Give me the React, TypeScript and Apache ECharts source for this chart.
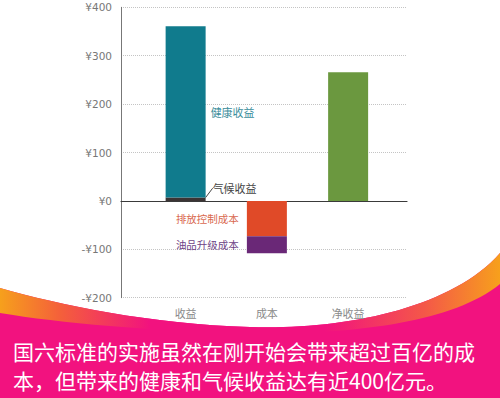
import React, { useEffect, useRef } from "react";
import * as echarts from "echarts";

const categories = ["收益", "成本", "净收益"];
const climateBenefit: (number | string)[] = [7, "-", "-"];
const healthBenefit: (number | string)[] = [354, "-", "-"];
const emissionCost: (number | string)[] = ["-", -73, "-"];
const fuelCost: (number | string)[] = ["-", -35, "-"];
const netBenefit: (number | string)[] = ["-", "-", 266];
const yMin = -200;
const yMax = 400;
const yInterval = 100;
const captionLines = [
  "国六标准的实施虽然在刚开始会带来超过百亿的成",
  "本，但带来的健康和气候收益达有近400亿元。",
];

const pinkPath =
  "M0,288 C60,305 150,324 250,327 C340,330 450,310 500,253 L500,398 L0,398 Z";
const bandPath =
  "M0,288 C60,305 150,324 250,327 C340,330 450,310 500,253 L500,284 C450,325 340,335 250,333 C150,331 60,323 0,313 Z";

let registered = false;
function registerShapes() {
  if (registered) return;
  registered = true;
  echarts.graphic.registerShape("pinkArea", echarts.graphic.extendPath(pinkPath, {}));
  echarts.graphic.registerShape("orangeBand", echarts.graphic.extendPath(bandPath, {}));
}

export default function App() {
  const ref = useRef<HTMLDivElement>(null);
  useEffect(() => {
    if (!ref.current) return;
    registerShapes();
    const chart = echarts.init(ref.current, undefined, { renderer: "svg" });
    const catFont = "'Noto Sans CJK SC', sans-serif";
    const option: any = {
      animation: false,
      backgroundColor: "#ffffff",
      grid: [
        { left: 121, top: 7.3, width: 286, height: 290.4 },
        { left: 145, top: 7.3, width: 243.75, height: 290.4 },
      ],
      xAxis: [
        {
          type: "category",
          gridIndex: 0,
          data: ["", "", ""],
          axisLine: { show: true, onZero: true, lineStyle: { color: "#3a3a3a", width: 1.2 } },
          axisTick: { show: false },
          axisLabel: { show: false },
          splitLine: { show: false },
        },
        {
          type: "category",
          gridIndex: 1,
          data: categories,
          axisLine: { show: false, onZero: false },
          axisTick: { show: false },
          axisLabel: { color: "#8a8a8a", fontSize: 11, margin: 10, fontFamily: catFont },
          splitLine: { show: false },
        },
      ],
      yAxis: [
        {
          type: "value",
          gridIndex: 0,
          min: yMin,
          max: yMax,
          interval: yInterval,
          axisLine: { show: true, lineStyle: { color: "#777", width: 1 } },
          axisTick: { show: false },
          axisLabel: {
            color: "#777",
            fontSize: 10.5,
            margin: 9,
            fontFamily: "'DejaVu Sans', sans-serif",
            formatter: (v: number) => (v < 0 ? "-¥" + Math.abs(v) : "¥" + v),
          },
          splitLine: { show: true, lineStyle: { color: "#c4c4c4", type: "dotted", width: 1 } },
        },
        {
          type: "value",
          gridIndex: 1,
          min: yMin,
          max: yMax,
          interval: yInterval,
          show: false,
        },
      ],
      graphic: [
        { type: "pinkArea", x: 0, y: 0, z: -10, silent: true, style: { fill: "#f2127f" } },
        {
          type: "orangeBand",
          x: 0,
          y: 0,
          z: -9,
          silent: true,
          style: {
            fill: new echarts.graphic.LinearGradient(0, 0, 1, 0, [
              { offset: 0, color: "#f6a01c" },
              { offset: 0.12, color: "#f4603a" },
              { offset: 0.3, color: "#f2127f" },
              { offset: 0.65, color: "#f2127f" },
              { offset: 0.85, color: "#f45848" },
              { offset: 1, color: "#f7a01c" },
            ]),
          },
        },
        ...captionLines.map((t, i) => ({
          type: "text",
          x: 13,
          y: 351 + i * 29,
          z: 10,
          silent: true,
          style: {
            text: t,
            fill: "#ffffff",
            fontSize: 21,
            lineHeight: 22,
            fontFamily: catFont,
            verticalAlign: "middle",
            align: "left",
          },
        })),
      ],
      series: [
        {
          name: "气候收益",
          type: "bar",
          xAxisIndex: 1,
          yAxisIndex: 1,
          stack: "a",
          barWidth: 40,
          data: climateBenefit,
          itemStyle: { color: "#3b3434" },
          label: {
            show: true,
            position: "right",
            distance: 5,
            formatter: "{a}",
            color: "#444",
            fontSize: 11,
            fontFamily: catFont,
          },
          labelLayout: { dx: 2, dy: -11 },
          labelLine: { show: true, lineStyle: { color: "#444", width: 1 } },
        },
        {
          name: "健康收益",
          type: "bar",
          xAxisIndex: 1,
          yAxisIndex: 1,
          stack: "a",
          barWidth: 40,
          data: healthBenefit,
          itemStyle: { color: "#107b8d" },
          label: {
            show: true,
            position: "right",
            distance: 5,
            formatter: "{a}",
            color: "#3b8e9c",
            fontSize: 11,
            fontFamily: catFont,
          },
        },
        {
          name: "排放控制成本",
          type: "bar",
          xAxisIndex: 1,
          yAxisIndex: 1,
          stack: "a",
          barWidth: 40,
          data: emissionCost,
          itemStyle: { color: "#e04a28" },
          label: {
            show: true,
            position: "left",
            distance: 8,
            formatter: "{a}",
            color: "#d9694f",
            fontSize: 10.5,
            fontFamily: catFont,
          },
        },
        {
          name: "油品升级成本",
          type: "bar",
          xAxisIndex: 1,
          yAxisIndex: 1,
          stack: "a",
          barWidth: 40,
          data: fuelCost,
          itemStyle: { color: "#6a2877" },
          label: {
            show: true,
            position: "left",
            distance: 8,
            formatter: "{a}",
            color: "#6e4386",
            fontSize: 10.5,
            fontFamily: catFont,
          },
        },
        {
          name: "净收益",
          type: "bar",
          xAxisIndex: 1,
          yAxisIndex: 1,
          stack: "a",
          barWidth: 40,
          data: netBenefit,
          itemStyle: { color: "#6b983f" },
        },
      ],
    };
    chart.setOption(option);
    return () => chart.dispose();
  }, []);
  return (
    <div
      ref={ref}
      style={{ position: "fixed", left: 0, top: 0, width: 500, height: 398 }}
    />
  );
}
